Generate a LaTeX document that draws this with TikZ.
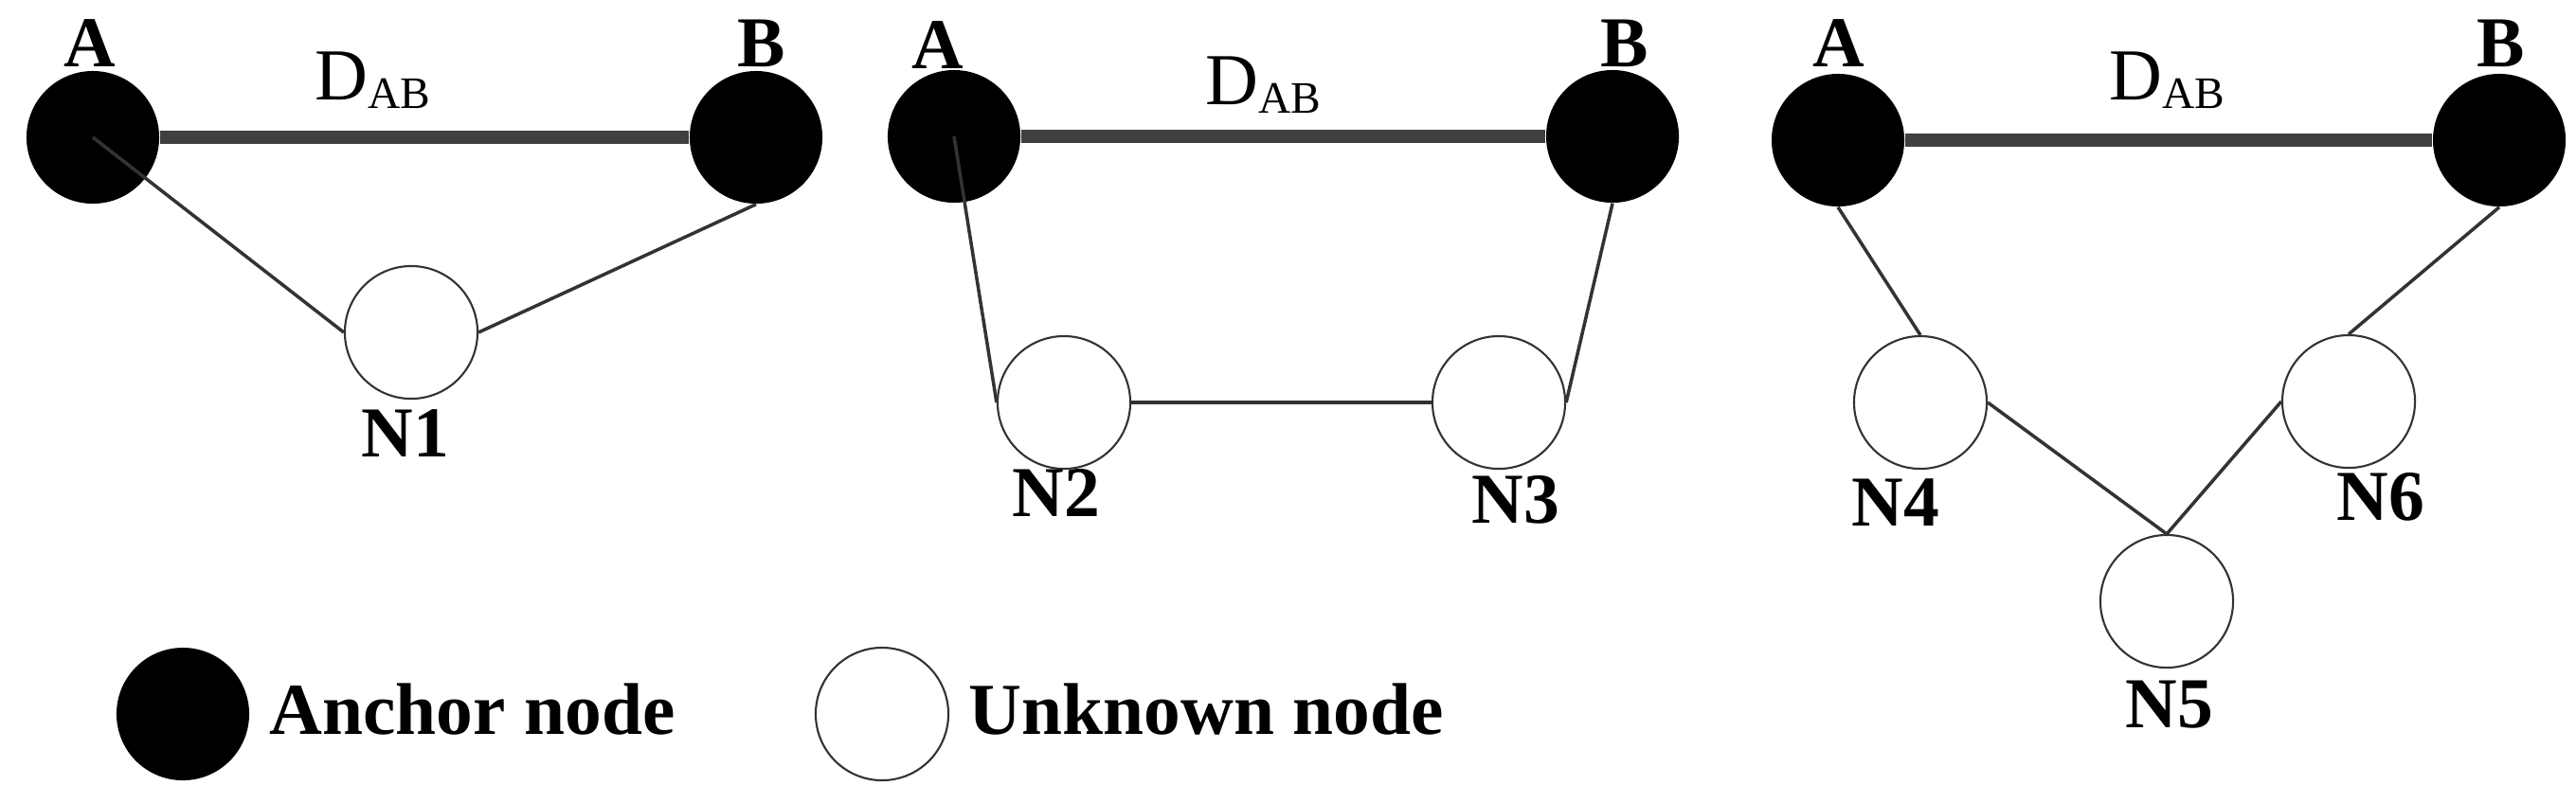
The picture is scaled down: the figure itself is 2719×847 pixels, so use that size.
\documentclass[tikz,border=0pt]{standalone}
\usepackage{fontspec}
\setmainfont{Liberation Serif}
\usetikzlibrary{positioning}

\definecolor{edgegray}{HTML}{333333}
\definecolor{rangegray}{HTML}{404040}

\tikzset{
  anchornode/.style={circle, fill=black, minimum size=1.4cm, inner sep=0pt},
  unknownnode/.style={circle, draw=edgegray, line width=0.6pt, fill=white, minimum size=1.4cm, inner sep=0pt},
  namelabel/.style={font=\fontsize{21.5}{24}\selectfont\bfseries, anchor=base, inner sep=0pt},
  legendlabel/.style={font=\fontsize{22}{24}\selectfont\bfseries, anchor=base west, inner sep=0pt},
  distlabel/.style={font=\fontsize{22}{24}\selectfont, anchor=base west, inner sep=0pt},
  rangeline/.style={draw=rangegray, line width=3.8pt},
  linkline/.style={draw=edgegray, line width=1pt}
}
\newcommand{\dab}{D{\fontsize{13.5}{15}\selectfont\raisebox{-2.8pt}{AB}}}

\begin{document}
\begin{tikzpicture}[x=0.01cm, y=-0.01cm]
	\useasboundingbox (0,0) rectangle (2719,847);
	% panel 1
	\node [anchornode] (a1) at (98,145) {};
	\node [anchornode] (b1) at (798,145) {};
	\node [unknownnode] (n1) at (434,351) {};
	% panel 2
	\node [anchornode] (a2) at (1007,144) {};
	\node [anchornode] (b2) at (1702,144) {};
	\node [unknownnode] (n2) at (1123,425) {};
	\node [unknownnode] (n3) at (1582,425) {};
	% panel 3
	\node [anchornode] (a3) at (1940,148) {};
	\node [anchornode] (b3) at (2638,148) {};
	\node [unknownnode] (n4) at (2027,425) {};
	\node [unknownnode] (n6) at (2479,424) {};
	\node [unknownnode] (n5) at (2287,635) {};
	% distances A-B
	\foreach \from/\to in {a1/b1, a2/b2, a3/b3}
	\draw [rangeline] (\from) to (\to);
	% links to unknown nodes
	\foreach \from/\to in {
		a1.center/n1.west, b1.south/n1.east,
		a2.center/n2.west, b2.south/n3.east, n2.east/n3.west,
		a3.south/n4.north, b3.south/n6.north, n4.east/n5.north, n6.west/n5.north}
	\draw [linkline] (\from) to (\to);
	% labels
	\node [namelabel] (la1) at (95,70) {A};
	\node [namelabel] (lb1) at (804,70) {B};
	\node [namelabel] (la2) at (990,72) {A};
	\node [namelabel] (lb2) at (1715,70) {B};
	\node [namelabel] (la3) at (1941,70) {A};
	\node [namelabel] (lb3) at (2640,70) {B};
	\node [distlabel] (d1) at (332,105) {\dab};
	\node [distlabel] (d2) at (1272,110) {\dab};
	\node [distlabel] (d3) at (2226,105) {\dab};
	\node [namelabel] (ln1) at (428,482) {N1};
	\node [namelabel] (ln2) at (1115,545) {N2};
	\node [namelabel] (ln3) at (1600,552) {N3};
	\node [namelabel] (ln4) at (2001,555) {N4};
	\node [namelabel] (ln6) at (2513,549) {N6};
	\node [namelabel] (ln5) at (2290,768) {N5};
	% legend
	\node [anchornode] (keyanchor) at (193,754) {};
	\node [legendlabel] (keyanchortext) at (284,775) {Anchor node};
	\node [unknownnode] (keyunknown) at (931,754) {};
	\node [legendlabel] (keyunknowntext) at (1022,775) {Unknown node};
\end{tikzpicture}
\end{document}
